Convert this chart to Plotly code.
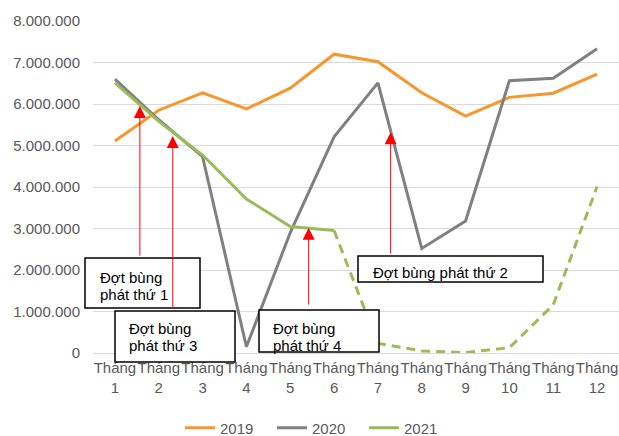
import plotly.graph_objects as go

months = list(range(1, 13))
tick_labels = [f"Tháng<br>{m}" for m in months]

y2019 = [5110000, 5850000, 6270000, 5880000, 6380000, 7200000, 7020000, 6270000, 5710000, 6160000, 6260000, 6720000]
y2020 = [6600000, 5620000, 4730000, 150000, 2900000, 5210000, 6510000, 2520000, 3180000, 6560000, 6620000, 7330000]
y2021 = [6510000, 5580000, 4770000, 3710000, 3050000, 2950000, 230000, 50000, 10000, 130000, 1160000, 4010000]

c2019 = "#F7962A"
c2020 = "#808080"
c2021 = "#9BBB59"

W, H = 619, 436
ML, MR, MT = 93, 0, 21
MB = H - 353
PW, PH = W - ML - MR, H - MT - MB


def px(x):
    return (x - ML) / PW


def py(y):
    return (H - MB - y) / PH


fig = go.Figure()
fig.add_trace(go.Scatter(x=months, y=y2019, mode="lines", name="2019",
                         line=dict(color=c2019, width=3)))
fig.add_trace(go.Scatter(x=months, y=y2020, mode="lines", name="2020",
                         line=dict(color=c2020, width=3)))
fig.add_trace(go.Scatter(x=months[:6], y=y2021[:6], mode="lines", name="2021",
                         line=dict(color=c2021, width=3)))
fig.add_trace(go.Scatter(x=months[5:], y=y2021[5:], mode="lines", showlegend=False,
                         line=dict(color=c2021, width=3, dash="9px,6px")))

# arrows: (x month, head value, tail value)
arrows = [
    (1.57, 5950000, 2310000),
    (2.32, 5230000, 1040000),
    (5.42, 3020000, 1130000),
    (7.29, 5320000, 2360000),
]
annotations = []
for ax_, head, tail in arrows:
    annotations.append(dict(x=ax_, y=head, ax=ax_, ay=tail, axref="x", ayref="y",
                            xref="x", yref="y", text="", showarrow=True,
                            arrowhead=2, arrowsize=2.4, arrowwidth=1,
                            arrowcolor="#FF0000", standoff=0))

# boxes (reference pixel extents)
boxes = [(85, 258, 200, 308), (115, 311, 235, 362), (259, 310, 379, 352), (358, 256, 543, 282)]
shapes = []
for x0, y0, x1, y1 in boxes:
    shapes.append(dict(type="rect", xref="paper", yref="paper",
                       x0=px(x0), x1=px(x1), y0=py(y1), y1=py(y0),
                       line=dict(color="#000000", width=1.5), fillcolor="#FFFFFF",
                       layer="above"))

# texts: (left x, baseline y, text)
texts = [
    (99, 282, "Đợt bùng"), (99, 299, "phát thứ 1"),
    (128, 333, "Đợt bùng"), (128, 350, "phát thứ 3"),
    (272, 333, "Đợt bùng"), (272, 350, "phát thứ 4"),
    (372, 277, "Đợt bùng phát thứ 2"),
]
for x, b, t in texts:
    annotations.append(dict(x=px(x - 1), y=py(b - 5), xref="paper", yref="paper",
                            text=t, showarrow=False, xanchor="left", yanchor="middle",
                            font=dict(size=15, color="#000000")))

fig.update_layout(
    width=W, height=H,
    margin=dict(l=ML, r=MR, t=MT, b=MB, autoexpand=False),
    paper_bgcolor="white", plot_bgcolor="white",
    separators=",.",
    font=dict(family="Liberation Sans, Arial, sans-serif", size=15, color="#595959"),
    xaxis=dict(range=[0.5, 12.5], tickvals=months, ticktext=tick_labels,
               tickangle=0, automargin=False, ticklabelstandoff=4,
               ticklabeloverflow="allow",
               showgrid=False, zeroline=False, showline=False, ticks="",
               tickfont=dict(size=15, color="#595959")),
    yaxis=dict(range=[0, 8000000], dtick=1000000, tickformat=",d", automargin=False,
               showgrid=True, gridcolor="#D9D9D9", gridwidth=1,
               zeroline=True, zerolinecolor="#D9D9D9", zerolinewidth=1,
               showline=False, ticks="", ticklabelstandoff=12,
               tickfont=dict(size=15, color="#595959")),
    legend=dict(orientation="h", x=px(318), xanchor="center", y=py(428), yanchor="middle",
                entrywidth=47, tracegroupgap=0,
                font=dict(size=15, color="#595959"), bgcolor="rgba(0,0,0,0)"),
    shapes=shapes,
    annotations=annotations,
    showlegend=True,
)

fig.write_html("out.html", config={"displayModeBar": False},
               post_script="document.body.style.margin='0';document.body.style.overflow='hidden';")
